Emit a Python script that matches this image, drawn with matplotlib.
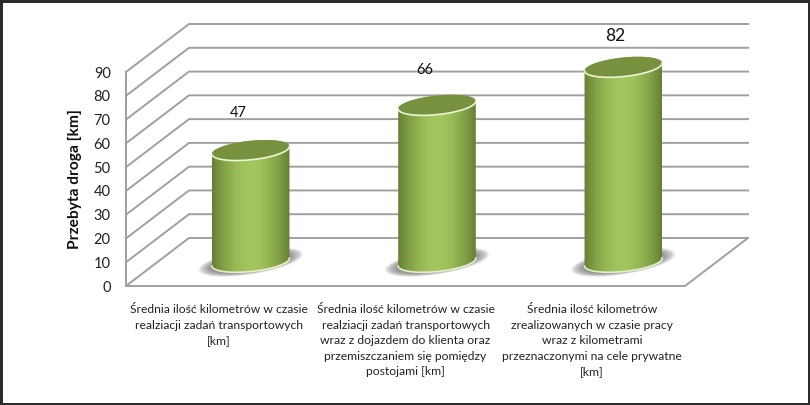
import numpy as np
import matplotlib
matplotlib.use("Agg")
import matplotlib.pyplot as plt
from matplotlib.patches import Polygon

# values
categories = [
    "Średnia ilość kilometrów w czasie\nrealziacji zadań transportowych\n[km]",
    "Średnia ilość kilometrów w czasie\nrealziacji zadań transportowych\nwraz z dojazdem do klienta oraz\nprzemiszczaniem się pomiędzy\npostojami [km]",
    "Średnia ilość kilometrów\nzrealizowanych w czasie pracy\nwraz z kilometrami\nprzeznaczonymi na cele prywatne\n[km]",
]
values = [47, 66, 82]
y_ticks = list(range(0, 100, 10))
y_title = "Przebyta droga [km]"

# size of one unit on screen, the plot is a faked 3d box
W, H = 810, 405
left, right, bottom, top = 126, 685, 286, 72
px_x = (right - left) / 3
px_y = (bottom - top) / 90
depth_x = 63 / px_x
depth_y = 48 / px_y

fig = plt.figure(figsize=(W / 100, H / 100), dpi=100, facecolor="white")
fig.patch.set_edgecolor("#2b2b2b")
fig.patch.set_linewidth(3.5)
ax = fig.add_axes([left / W, 1 - bottom / H, (right - left) / W, (bottom - top) / H])
ax.patch.set_alpha(0)
for s in ax.spines.values():
    s.set_visible(False)

ax.set_xlim(0, 3)
ax.set_ylim(0, 90)

# walls and floor
wall = "#a0a0a0"
for v in y_ticks:
    ax.plot([0, depth_x, 3 + depth_x], [v, v + depth_y, v + depth_y], color=wall, lw=1.4, clip_on=False, zorder=1)
ax.plot([0, 3, 3 + depth_x], [0, 0, depth_y], color=wall, lw=1.4, clip_on=False, zorder=1)
ax.plot([0, 0], [0, 90], color=wall, lw=1.4, clip_on=False, zorder=1)


def ellipse(cx, cy, rx, ry, tilt, t0=0, t1=2 * np.pi):
    # tilted ellipse, sizes in pixels, centre in data units
    t = np.linspace(t0, t1, 80)
    a = np.radians(tilt)
    dx = rx * np.cos(t) * np.cos(a) - ry * np.sin(t) * np.sin(a)
    dy = rx * np.cos(t) * np.sin(a) + ry * np.sin(t) * np.cos(a)
    return cx + dx / px_x, cy + dy / px_y


# horizontal shading of the cylinder
dark = np.array([0x66, 0x80, 0x33]) / 255
light = np.array([0xa4, 0xc6, 0x5e]) / 255
k = np.abs(np.linspace(-1, 1, 120)) ** 1.8
shade = (light[None, :] * (1 - k[:, None]) + dark[None, :] * k[:, None])[None, :, :]

rx, ry, tilt = 39, 9.5, 6
for i, v in enumerate(values):
    cx = i + 0.5 + depth_x / 2
    cy = depth_y / 2

    # soft shadow on the floor
    for f in np.linspace(1.36, 1.0, 16):
        xs, ys = ellipse(cx, cy, rx * f, ry * f * 0.95, 9)
        ax.add_patch(Polygon(np.c_[xs, ys], fc="#666666", ec="none", alpha=0.07, clip_on=False, zorder=2))

    # body
    xb, yb = ellipse(cx, cy, rx, ry, tilt, np.pi, 2 * np.pi)
    xt, yt = ellipse(cx, cy + v, rx, ry, tilt, 0, np.pi)
    body = Polygon(np.c_[np.r_[xb, xt], np.r_[yb, yt]], fc="none", ec="none", transform=ax.transData, clip_on=False)
    ax.add_patch(body)
    im = ax.imshow(shade, extent=[cx - rx / px_x, cx + rx / px_x, 0, cy + v + 12], aspect="auto", zorder=3)
    im.set_clip_path(body)
    im.set_clip_box(fig.bbox)

    # pale rim at the bottom
    ax.plot(xb, yb, color="#e6efc8", lw=1.2, clip_on=False, zorder=4)

    # top
    xs, ys = ellipse(cx, cy + v, rx, ry, tilt)
    ax.add_patch(Polygon(np.c_[xs, ys], fc="#77913f", ec="none", clip_on=False, zorder=5))
    xr, yr = ellipse(cx, cy + v, rx, ry, tilt, np.pi, 2 * np.pi)
    ax.plot(xr, yr, color="#eef4d6", lw=1.2, clip_on=False, zorder=6)

ax.set_xlim(0, 3)
ax.set_ylim(0, 90)

# value labels, they sit above the cylinders and a bit to the left
label_offsets = [(-8.6, 27), (-8.6, 25.5), (-5.8, 22)]
label_sizes = [10.5, 10.5, 12.5]
for i, v in enumerate(values):
    ax.annotate(str(v), (i + 0.5 + depth_x / 2, depth_y / 2 + v), xytext=label_offsets[i],
                textcoords="offset points", ha="center", va="center",
                fontsize=label_sizes[i], family="Lato", color="#111111", annotation_clip=False, zorder=7)

ax.set_yticks(y_ticks)
ax.set_xticks([0.5, 1.5, 2.5])
ax.set_xticklabels(categories, family="Lato", fontsize=8.7, linespacing=1.5, color="#222222")
ax.tick_params(axis="x", length=0, pad=13)
ax.tick_params(axis="y", length=0, pad=11, labelsize=10.5, labelcolor="#222222")
for t in ax.get_yticklabels():
    t.set_family("Lato")
ax.set_ylabel(y_title, family="Lato", fontweight="bold", fontsize=11.2, color="#111111", labelpad=8)

fig.savefig("out.png", dpi=100)
